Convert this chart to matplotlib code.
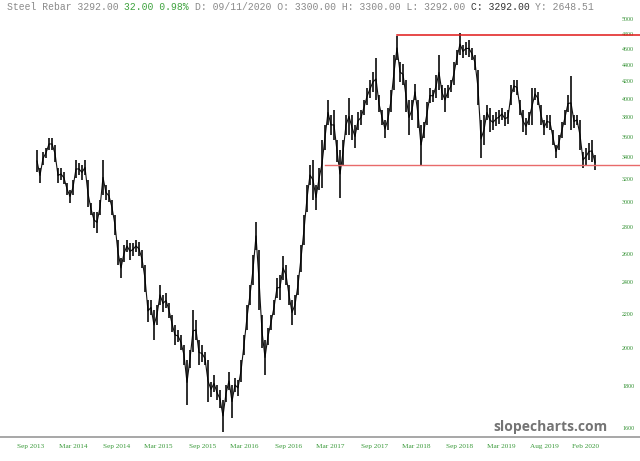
import numpy as np
import matplotlib
matplotlib.use("Agg")
import matplotlib.pyplot as plt
from matplotlib.ticker import FixedLocator, NullLocator

HIGH = [
    3470, 3301, 3451, 3490, 3589, 3589, 3520, 3301, 3301, 3265,
    3166, 3105, 3192, 3375, 3347, 3329, 3375, 3192, 2994, 2921,
    2921, 3019, 3375, 3148, 3105, 3019, 2896, 2701, 2569, 2664,
    2701, 2679, 2679, 2701, 2686, 2627, 2520, 2285, 2285, 2223,
    2254, 2383, 2317, 2330, 2267, 2192, 2132, 2102, 2073, 2016,
    1934, 1988, 2223, 2162, 2044, 2016, 1977, 1934, 1819, 1855,
    1803, 1779, 1730, 1803, 1870, 1803, 1839, 1829, 1934, 2073,
    2254, 2383, 2591, 2840, 2627, 2192, 2044, 2114, 2192, 2285,
    2430, 2450, 2584, 2520, 2383, 2285, 2317, 2450, 2664, 2896,
    3148, 3329, 3375, 3148, 3301, 3569, 3721, 3989, 3826, 3880,
    3569, 3470, 3569, 3826, 4011, 3826, 3721, 3858, 3880, 3989,
    4125, 4218, 4313, 4485, 4045, 3880, 3773, 3902, 4102, 4522,
    4768, 4435, 4410, 4218, 3989, 3989, 4172, 3989, 3721, 3752,
    3967, 4125, 4102, 4277, 4522, 4160, 4125, 4160, 4218, 4435,
    4586, 4805, 4650, 4689, 4715, 4612, 4522, 4337, 3773, 3826,
    3934, 3902, 3826, 3858, 3880, 3902, 3858, 3880, 4160, 4218,
    4218, 3989, 3880, 3794, 3858, 4125, 4125, 4079, 3934, 3773,
    3826, 3826, 3670, 3520, 3619, 3752, 3880, 4045, 4265, 3826,
    3826, 3773, 3451, 3490, 3539, 3569, 3423,
]
LOW = [
    3265, 3166, 3329, 3394, 3470, 3470, 3357, 3166, 3192, 3157,
    3062, 2994, 3062, 3210, 3237, 3192, 3237, 2961, 2896, 2793,
    2754, 2896, 3062, 3019, 3003, 2896, 2739, 2520, 2430, 2541,
    2613, 2555, 2584, 2613, 2584, 2499, 2337, 2150, 2192, 2044,
    2132, 2254, 2211, 2235, 2174, 2090, 2016, 2033, 1988, 1907,
    1706, 1891, 1977, 2044, 1907, 1923, 1907, 1720, 1744, 1769,
    1730, 1692, 1582, 1720, 1779, 1645, 1769, 1749, 1819, 1960,
    2102, 2254, 2383, 2627, 2223, 2000, 1855, 2016, 2102, 2192,
    2298, 2285, 2416, 2383, 2254, 2132, 2192, 2317, 2471, 2664,
    2921, 3148, 3019, 2937, 3105, 3122, 3470, 3721, 3619, 3569,
    3357, 3036, 3329, 3619, 3619, 3569, 3490, 3670, 3721, 3826,
    3934, 4011, 4079, 3989, 3858, 3721, 3589, 3670, 3858, 4102,
    4460, 4195, 4160, 3858, 3619, 3773, 3989, 3690, 3329, 3589,
    3721, 3956, 3967, 4011, 4102, 3989, 3858, 4011, 4079, 4160,
    4398, 4522, 4485, 4522, 4497, 4460, 4337, 3934, 3394, 3520,
    3773, 3649, 3670, 3711, 3731, 3773, 3711, 3731, 3934, 4079,
    4045, 3826, 3649, 3619, 3721, 3721, 3989, 3934, 3721, 3619,
    3690, 3670, 3520, 3394, 3470, 3589, 3721, 3858, 3670, 3690,
    3721, 3470, 3301, 3329, 3375, 3357, 3283,
]

TICK_LABELS = ["Sep 2013", "Mar 2014", "Sep 2014", "Mar 2015", "Sep 2015",
               "Mar 2016", "Sep 2016", "Mar 2017", "Sep 2017", "Mar 2018",
               "Sep 2018", "Mar 2019", "Aug 2019", "Feb 2020"]
TICK_BARS = [-2.1, 12.0, 26.4, 40.3, 55.1, 69.0, 83.8, 97.8, 112.5, 126.5,
             141.0, 154.7, 169.0, 183.0]
PRICE_TICKS = list(range(1600, 5001, 200))

# horizontal levels (price, first bar)
TOP_LEVEL, TOP_START = 4780, 120
BASE_LEVEL, BASE_START = 3330, 96

HEADER = [("Steel Rebar 3292.00 ", "#8a8a8a"), ("32.00 0.98% ", "#3fa33f"),
          ("D: 09/11/2020 O: 3300.00 H: 3300.00 L: 3292.00 ", "#8a8a8a"),
          ("C: 3292.00 ", "#333333"), ("Y: 2648.51", "#8a8a8a")]

W, H = 640, 461
fig = plt.figure(figsize=(W / 100, H / 100), dpi=100)
ax = fig.add_axes([0, 24 / H, 1, 437 / H])

bars = np.arange(len(HIGH))
mid = np.sqrt(np.array(HIGH) * np.array(LOW))
ax.plot(bars, mid, color="#111111", lw=0.8)
ax.vlines(bars, LOW, HIGH, color="black", lw=1.15)

xmax = 201
ax.plot([TOP_START, xmax], [TOP_LEVEL, TOP_LEVEL], color="#e01818", lw=1.1)
ax.plot([BASE_START, xmax], [BASE_LEVEL, BASE_LEVEL], color="#e86a6a", lw=1.0)

ax.set_yscale("log")
ax.set_ylim(1560, 5270)
ax.set_xlim(-12.33, xmax)

ax.yaxis.tick_right()
ax.yaxis.set_major_locator(FixedLocator(PRICE_TICKS))
ax.yaxis.set_minor_locator(NullLocator())
ax.set_yticklabels([str(v) for v in PRICE_TICKS])
ax.tick_params(axis="y", length=0, pad=-13, labelsize=4.3,
               labelcolor="#2f8f2f")
for t in ax.get_yticklabels():
    t.set_fontfamily("Liberation Serif")

ax.set_xticks(TICK_BARS)
ax.set_xticklabels(TICK_LABELS)
ax.tick_params(axis="x", length=0, pad=5, labelsize=5.2, labelcolor="#3a9a3a")
for t in ax.get_xticklabels():
    t.set_fontfamily("Liberation Serif")

for s in ["top", "left", "right"]:
    ax.spines[s].set_visible(False)
ax.spines["bottom"].set_color("#a0a0a0")
ax.spines["bottom"].set_linewidth(1.3)

# header line, monospace pieces placed by character count
char_px = 5.87
pos = 0
for txt, col in HEADER:
    fig.text((7 + pos * char_px) / W, 1 - 7 / H, txt, color=col,
             family="Liberation Mono", fontsize=7.0, va="center", ha="left")
    pos += len(txt)

fig.text(607 / W, 1 - 427 / H, "slopecharts.com", color="#747474",
         family="Open Sans", weight="bold", fontsize=10, ha="right",
         va="center")

fig.savefig("out.png", dpi=100)
